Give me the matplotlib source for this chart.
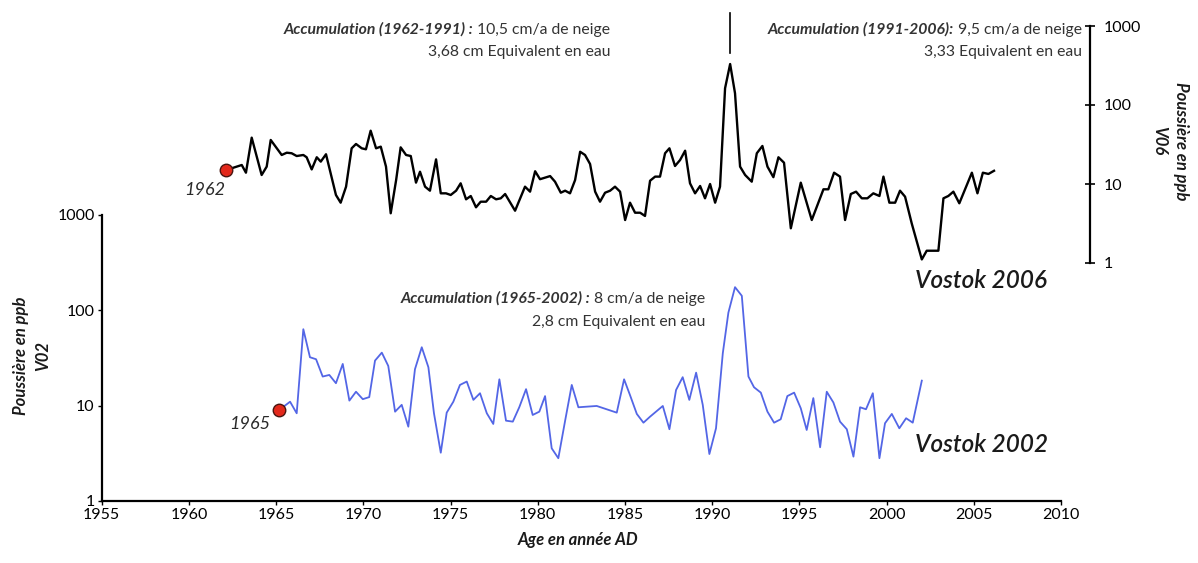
"""Poussières Vostok V02 / V06 - séries annuelles (échelle log)."""

import matplotlib
matplotlib.use('Agg')
import matplotlib.pyplot as plt
from matplotlib.transforms import blended_transform_factory

plt.rcParams['font.family'] = ['Lato', 'DejaVu Sans']

# Vostok 2006 (V06), axe de droite
annees_v06 = [1962.13, 1963.03, 1963.27, 1963.60, 1964.17, 1964.46, 1964.69, 1965.32,
              1965.61, 1965.89, 1966.18, 1966.56, 1966.75, 1967.04, 1967.33, 1967.56,
              1967.86, 1968.43, 1968.70, 1969.01, 1969.33, 1969.58, 1969.91, 1970.15,
              1970.42, 1970.73, 1971.00, 1971.30, 1971.57, 1971.88, 1972.14, 1972.45,
              1972.72, 1973.02, 1973.25, 1973.54, 1973.82, 1974.17, 1974.44, 1974.74,
              1975.01, 1975.32, 1975.58, 1975.89, 1976.16, 1976.46, 1976.73, 1977.04,
              1977.31, 1977.61, 1977.88, 1978.13, 1978.70, 1979.27, 1979.56, 1979.85,
              1980.13, 1980.71, 1980.99, 1981.32, 1981.57, 1981.85, 1982.14, 1982.43,
              1982.71, 1983.00, 1983.29, 1983.57, 1983.86, 1984.15, 1984.43, 1984.72,
              1985.01, 1985.29, 1985.58, 1985.87, 1986.15, 1986.44, 1986.73, 1987.01,
              1987.30, 1987.55, 1987.87, 1988.16, 1988.45, 1988.73, 1989.02, 1989.31,
              1989.59, 1989.88, 1990.17, 1990.45, 1990.74, 1991.03, 1991.31, 1991.60,
              1991.89, 1992.27, 1992.56, 1992.88, 1993.17, 1993.51, 1993.80, 1994.12,
              1994.51, 1995.08, 1995.71, 1996.38, 1996.66, 1996.99, 1997.33, 1997.62,
              1997.95, 1998.25, 1998.58, 1998.90, 1999.24, 1999.59, 1999.82, 2000.16,
              2000.49, 2000.77, 2001.06, 2001.44, 2002.02, 2002.30, 2002.97, 2003.26,
              2003.54, 2003.83, 2004.17, 2004.56, 2004.89, 2005.21, 2005.52, 2005.84,
              2006.16]
poussiere_v06 = [15.0, 17.4, 13.9, 38.6, 13.0, 16.6, 36.1, 23.3,
                 24.9, 24.5, 22.6, 23.3, 21.8, 15.3, 21.8, 19.2,
                 23.8, 7.26, 5.80, 9.25, 28.3, 32.1, 28.3, 27.5,
                 47.3, 28.3, 29.7, 16.6, 4.26, 11.2, 29.1, 23.3,
                 22.6, 10.4, 14.3, 9.25, 8.23, 20.5, 7.62, 7.62,
                 7.26, 8.23, 10.2, 6.40, 7.05, 5.07, 5.97, 5.97,
                 7.05, 6.40, 6.59, 7.47, 4.59, 9.25, 8.0, 14.5,
                 11.5, 12.6, 10.7, 7.76, 8.23, 7.62, 11.2, 25.6,
                 23.3, 17.9, 8.0, 5.97, 7.76, 8.23, 9.25, 8.0,
                 3.50, 5.80, 4.33, 4.33, 3.94, 11.0, 12.4, 12.4,
                 24.5, 28.3, 16.9, 20.1, 26.4, 10.2, 7.62, 9.44,
                 6.59, 10.0, 5.80, 9.25, 163, 330, 141, 16.6,
                 13.0, 10.7, 24.5, 30.3, 16.6, 12.2, 21.8, 18.6,
                 2.75, 10.4, 3.50, 8.57, 8.57, 13.9, 12.4, 3.50,
                 7.47, 8.0, 6.59, 6.59, 7.62, 7.05, 12.4, 5.80,
                 5.80, 8.23, 6.91, 3.18, 1.11, 1.43, 1.43, 6.59,
                 7.05, 8.0, 5.70, 9.25, 13.9, 7.62, 13.9, 13.4,
                 14.7]

# Vostok 2002 (V02), axe de gauche
annees_v02 = [1965.18, 1965.80, 1966.18, 1966.56, 1966.94, 1967.29, 1967.67, 1968.05,
              1968.43, 1968.82, 1969.20, 1969.58, 1969.97, 1970.34, 1970.67, 1971.06,
              1971.43, 1971.82, 1972.20, 1972.58, 1972.96, 1973.35, 1973.73, 1974.05,
              1974.44, 1974.78, 1975.16, 1975.54, 1975.93, 1976.31, 1976.69, 1977.08,
              1977.45, 1977.80, 1978.18, 1978.57, 1978.94, 1979.33, 1979.71, 1980.09,
              1980.42, 1980.80, 1981.18, 1981.57, 1981.95, 1982.33, 1983.38, 1984.53,
              1984.95, 1985.29, 1985.68, 1986.06, 1986.44, 1987.17, 1987.55, 1987.93,
              1988.31, 1988.69, 1989.08, 1989.46, 1989.84, 1990.22, 1990.61, 1990.93,
              1991.31, 1991.70, 1992.08, 1992.40, 1992.79, 1993.17, 1993.55, 1993.93,
              1994.31, 1994.70, 1995.08, 1995.42, 1995.80, 1996.19, 1996.57, 1996.95,
              1997.33, 1997.72, 1998.10, 1998.48, 1998.82, 1999.21, 1999.59, 1999.91,
              2000.30, 2000.73, 2001.12, 2001.50, 2002.02]
poussiere_v02 = [9.02, 11.0, 8.32, 63.4, 32.2, 30.7, 20.2, 21.0,
                 17.2, 27.4, 11.3, 14.0, 11.7, 12.3, 29.7, 36.0,
                 26.1, 8.65, 10.2, 6.02, 24.1, 41.0, 25.3, 8.32,
                 3.21, 8.45, 11.0, 16.5, 17.9, 11.5, 13.5, 8.32,
                 6.43, 18.9, 6.96, 6.80, 9.62, 14.9, 7.99, 8.65,
                 12.6, 3.57, 2.81, 6.96, 16.5, 9.62, 9.93, 8.45,
                 18.9, 12.9, 8.19, 6.63, 7.67, 9.93, 5.66, 14.6,
                 19.9, 11.5, 22.2, 10.2, 3.11, 5.79, 35.5, 94.6,
                 175, 142, 20.2, 15.6, 13.7, 8.65, 6.63, 7.2,
                 12.6, 13.7, 9.39, 5.56, 12.0, 3.66, 14.0, 10.8,
                 6.8, 5.66, 2.92, 9.62, 9.17, 13.5, 2.81, 6.54,
                 8.19, 5.79, 7.38, 6.63, 18.3]

ticks_x = [1955, 1960, 1965, 1970, 1975, 1980, 1985, 1990, 1995, 2000, 2005, 2010]
ticks_y = [1, 10, 100, 1000]
annee_volcan = 1991.05   # trait de séparation Pinatubo

W, H = 1198, 563
fig = plt.figure(figsize=(W / 100, H / 100), dpi=100)


def fx(px):
    return px / W


def fy(py):
    return 1 - py / H


# axe du bas (V02)
ax1 = fig.add_axes([fx(101.7), fy(501), fx(1061) - fx(101.7), fy(215) - fy(501)])
# axe du haut (V06)
ax2 = fig.add_axes([fx(101.7), fy(263), fx(1061) - fx(101.7), fy(26) - fy(263)])
ax2.patch.set_visible(False)

bleu = '#5366e6'
ax1.plot(annees_v02, poussiere_v02, color=bleu, lw=1.3)
ax1.plot(annees_v02[0], poussiere_v02[0], 'o', ms=9, mfc='#e3281b', mec='#4a1510', mew=1)
ax2.plot(annees_v06, poussiere_v06, color='black', lw=1.7)
ax2.plot(annees_v06[0], poussiere_v06[0], 'o', ms=9, mfc='#e3281b', mec='#4a1510', mew=1)

for ax in (ax1, ax2):
    ax.set_yscale('log')
    ax.set_ylim(1, 1000)
    ax.set_xlim(1955, 2010)
    ax.minorticks_off()
    ax.set_yticks(ticks_y)
    ax.set_yticklabels([str(t) for t in ticks_y])

ax1.set_xticks(ticks_x)
ax1.set_xticklabels([str(t) for t in ticks_x])
ax1.spines['top'].set_visible(False)
ax1.spines['right'].set_visible(False)
ax1.spines['left'].set_linewidth(1.6)
ax1.spines['bottom'].set_linewidth(1.6)
ax1.tick_params(axis='both', labelsize=11.5, length=3, width=1, pad=2)

for s in ('top', 'left', 'bottom'):
    ax2.spines[s].set_visible(False)
ax2.spines['right'].set_position(('outward', 21))
ax2.spines['right'].set_linewidth(1.6)
ax2.set_xticks([])
ax2.yaxis.tick_right()
ax2.tick_params(axis='y', labelsize=11.5, length=7, width=1.2, direction='inout', pad=6)

lab = dict(fontsize=12, fontweight='bold', style='italic', color='#1a1a1a',
           ha='center', va='center', linespacing=1.5)
fig.text(fx(32), fy(356), 'Poussière en ppb\nV02', rotation=90, **lab)
fig.text(fx(1170), fy(141), 'Poussière en ppb\nV06', rotation=270, **lab)
fig.text(fx(578), fy(540), 'Age en année AD', fontsize=12, fontweight='bold',
         style='italic', color='#1a1a1a', ha='center', va='center')

# textes d'accumulation
gris = '#333333'
taille = 11.3


def accumulation(xr, yl1, yl2, gras, reste, ligne2):
    t = fig.text(fx(xr), fy(yl1), reste, fontsize=taille, color=gris, ha='right', va='center')
    ax1.annotate(gras, xy=(0, 0), xycoords=t, ha='right', va='bottom', fontsize=taille,
                 fontweight='bold', style='italic', color=gris, annotation_clip=False)
    fig.text(fx(xr), fy(yl2), ligne2, fontsize=taille, color=gris, ha='right', va='center')


accumulation(610, 30, 52, 'Accumulation (1962-1991) :', ' 10,5 cm/a de neige',
             '3,68 cm Equivalent en eau')
accumulation(1082, 30, 52, 'Accumulation (1991-2006):', ' 9,5 cm/a de neige',
             '3,33 Equivalent en eau')
accumulation(705, 299, 322, 'Accumulation (1965-2002) :', ' 8 cm/a de neige',
             '2,8 cm Equivalent en eau')

tr = blended_transform_factory(ax2.transData, ax2.transAxes)
ax2.plot([annee_volcan, annee_volcan], [0.886, 1.055], transform=tr, color='black',
         lw=1.2, clip_on=False)

fig.text(fx(915), fy(280), 'Vostok 2006', fontsize=17.5, style='italic', fontweight='semibold',
         color='#1a1a1a', ha='left', va='center')
fig.text(fx(915), fy(445), 'Vostok 2002', fontsize=17.5, style='italic', fontweight='semibold',
         color='#1a1a1a', ha='left', va='center')
fig.text(fx(205), fy(190), '1962', fontsize=13, style='italic', color='#2a2a2a',
         ha='center', va='center')
fig.text(fx(250), fy(424), '1965', fontsize=13, style='italic', color='#2a2a2a',
         ha='center', va='center')

plt.savefig('out.png', dpi=100)
